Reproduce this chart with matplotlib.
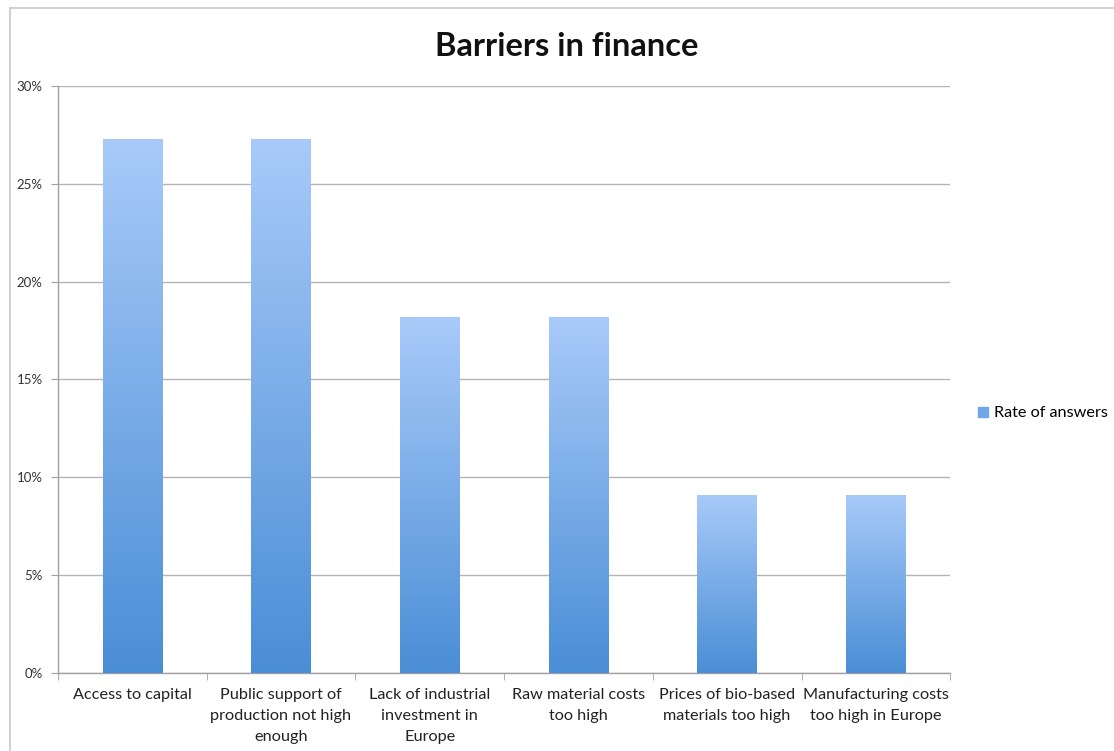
import matplotlib
matplotlib.use("Agg")
import matplotlib.pyplot as plt
import numpy as np
from matplotlib.colors import LinearSegmentedColormap
from matplotlib.lines import Line2D

# donnees du graphique
categorias = ["Access to capital",
              "Public support of\nproduction not high\nenough",
              "Lack of industrial\ninvestment in\nEurope",
              "Raw material costs\ntoo high",
              "Prices of bio-based\nmaterials too high",
              "Manufacturing costs\ntoo high in Europe"]
taxas = [3 / 11, 3 / 11, 2 / 11, 2 / 11, 1 / 11, 1 / 11]
ticks_y = [0, 0.05, 0.10, 0.15, 0.20, 0.25, 0.30]
rotulos_y = ["0%", "5%", "10%", "15%", "20%", "25%", "30%"]
serie = "Rate of answers"

plt.rcParams['font.family'] = ['Lato', 'DejaVu Sans']

fig = plt.figure(figsize=(11.14, 7.51), dpi=100)
ax = fig.add_axes([0.052, 0.1039, 0.801, 0.7816])

# gradiente das barras (claro em cima, escuro embaixo)
cmap = LinearSegmentedColormap.from_list("azul", ["#4a8ed6", "#a8caf9"])
grad = np.linspace(0, 1, 256).reshape(-1, 1)
largura = 0.4
for i, v in enumerate(taxas):
    ax.imshow(grad, cmap=cmap, origin="lower", aspect="auto",
              extent=[i - largura / 2, i + largura / 2, 0, v], zorder=3)

ax.set_xlim(-0.5, len(categorias) - 0.5)
ax.set_ylim(0, 0.30)

# grade e eixos
ax.set_yticks(ticks_y)
ax.set_yticklabels(rotulos_y, fontsize=9.5, color="#333333")
ax.yaxis.grid(True, color="#b5b5b5", linewidth=1, zorder=0)
ax.set_axisbelow(True)
ax.set_xticks(range(len(categorias)))
ax.set_xticklabels(categorias, fontsize=11.7, color="#222222", linespacing=1.62)
ax.set_xticks(np.arange(-0.5, len(categorias)), minor=True)
ax.tick_params(axis="x", which="major", length=0, pad=11)
ax.tick_params(axis="x", which="minor", length=5, color="#a0a0a0", direction="out")
ax.tick_params(axis="y", length=5, color="#a0a0a0", direction="out", pad=6)
for lado in ["top", "right"]:
    ax.spines[lado].set_visible(False)
for lado in ["left", "bottom"]:
    ax.spines[lado].set_color("#a0a0a0")
    ax.spines[lado].set_linewidth(1)

fig.text(0.509, 0.938, "Barriers in finance", ha="center", va="center",
         fontsize=23.5, fontweight="bold", color="#111111")

# legenda
marcador = Line2D([], [], marker="s", linestyle="none", markersize=7,
                  markerfacecolor="#6fa6e8", markeredgecolor="#6fa6e8")
fig.legend([marcador], [serie], loc="center left", bbox_to_anchor=(0.862, 0.45),
           frameon=False, fontsize=11.7, handletextpad=0.2, handlelength=1)

# moldura cinza (topo e esquerda)
fig.add_artist(Line2D([0.009, 1.0], [0.989, 0.989], transform=fig.transFigure,
                      color="#c8c8c8", linewidth=1.2))
fig.add_artist(Line2D([0.009, 0.009], [0.0, 0.989], transform=fig.transFigure,
                      color="#c8c8c8", linewidth=1.2))

fig.savefig("out.png", dpi=100)
